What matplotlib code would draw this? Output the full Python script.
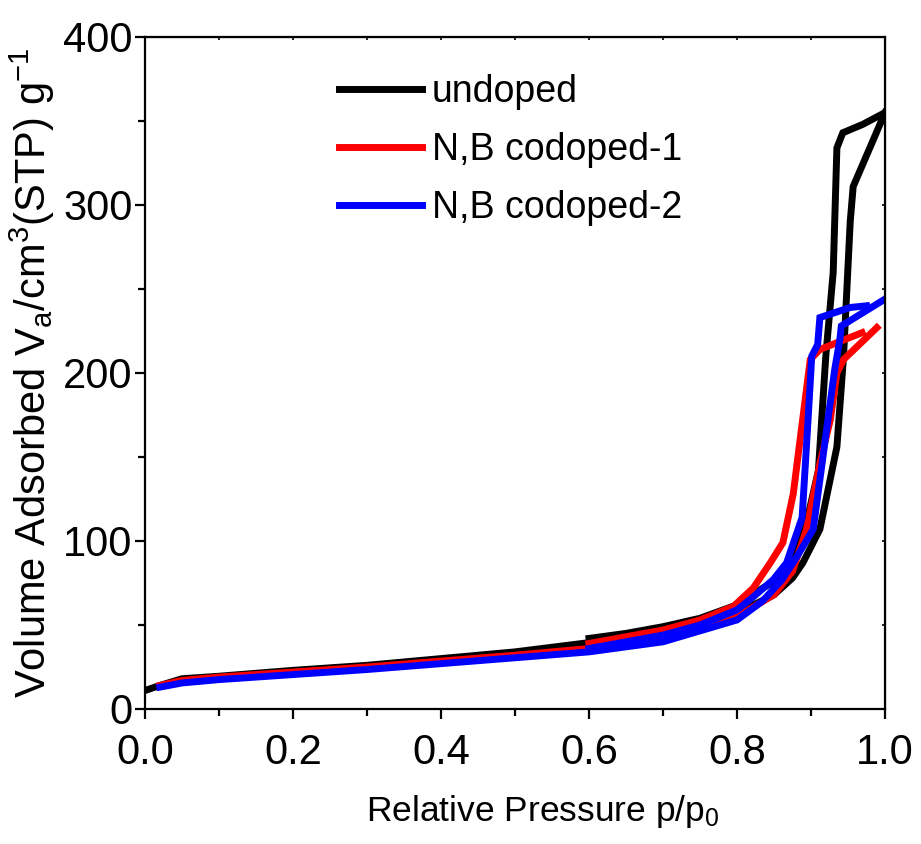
import matplotlib
matplotlib.use("Agg")
import matplotlib.pyplot as plt
from matplotlib import font_manager

# font: narrow Arial-like if available
names = {f.name for f in font_manager.fontManager.ttflist}
fam = "Liberation Sans Narrow" if "Liberation Sans Narrow" in names else "Liberation Sans"
plt.rcParams["font.family"] = [fam, "DejaVu Sans"]
plt.rcParams["mathtext.fontset"] = "custom"
plt.rcParams["mathtext.rm"] = fam
plt.rcParams["mathtext.it"] = fam

##############################################################################
# data

# undoped
und_ads_x = [0.0, 0.02, 0.05, 0.1, 0.2, 0.3, 0.4, 0.5, 0.6, 0.7, 0.75, 0.8,
             0.85, 0.875, 0.889, 0.912, 0.935, 0.944, 0.953, 0.957, 1.0]
und_ads_y = [11, 14, 18, 19.5, 23, 26, 30, 34, 39.5, 45, 50, 57,
             68, 78, 87, 107, 156, 210, 290, 311, 355]
und_des_x = [1.0, 0.97, 0.943, 0.935, 0.93, 0.92, 0.91, 0.894, 0.87, 0.85,
             0.82, 0.8, 0.75, 0.7, 0.65, 0.6]
und_des_y = [355, 348, 343, 334, 260, 210, 142, 111, 88, 76,
             68, 62, 54, 49, 45, 42]

# N,B codoped-1
nb1_ads_x = [0.02, 0.05, 0.1, 0.2, 0.3, 0.4, 0.5, 0.6, 0.7, 0.8, 0.85,
             0.875, 0.894, 0.912, 0.926, 0.935, 0.944, 0.989]
nb1_ads_y = [14, 17, 19, 22, 25, 28.5, 32, 36, 42, 55, 68,
             82, 107, 146, 172, 200, 208, 227]
nb1_des_x = [0.969, 0.912, 0.899, 0.876, 0.862, 0.845, 0.822, 0.795,
             0.75, 0.7, 0.6]
nb1_des_y = [224, 214, 208, 128, 99, 87, 72, 61, 53, 47, 39]

# N,B codoped-2
nb2_ads_x = [0.02, 0.05, 0.1, 0.2, 0.3, 0.4, 0.5, 0.6, 0.7, 0.8, 0.834,
             0.861, 0.88, 0.903, 0.921, 0.932, 0.939, 0.941, 1.0]
nb2_ads_y = [13, 15.5, 17.5, 20.5, 23.5, 27, 30.5, 34, 40, 53, 64,
             77, 90, 107, 166, 202, 220, 228, 244]
nb2_des_x = [0.975, 0.953, 0.912, 0.909, 0.901, 0.896, 0.888, 0.867, 0.849,
             0.82, 0.8, 0.75, 0.7, 0.6]
nb2_des_y = [240, 239, 233, 217, 210, 172, 114, 87, 77,
             66, 59, 50, 44, 36]

labels = ["undoped", "N,B codoped-1", "N,B codoped-2"]
colors = ["black", "red", "blue"]

##############################################################################
# plot

fig = plt.figure(figsize=(9.21, 8.44), dpi=100)
ax = fig.add_axes([145 / 921, 1 - 709 / 844, 740 / 921, 672 / 844])

series = [(und_ads_x, und_ads_y, und_des_x, und_des_y),
          (nb1_ads_x, nb1_ads_y, nb1_des_x, nb1_des_y),
          (nb2_ads_x, nb2_ads_y, nb2_des_x, nb2_des_y)]

for (ax_x, ax_y, dx, dy), lab, c in zip(series, labels, colors):
    ax.plot(ax_x, ax_y, color=c, lw=5, label=lab, solid_joinstyle="miter")
    ax.plot(dx, dy, color=c, lw=5, solid_joinstyle="miter")

ax.set_xlim(0, 1.0)
ax.set_ylim(0, 400)
ax.set_xticks([0.0, 0.2, 0.4, 0.6, 0.8, 1.0])
ax.set_xticks([0.1, 0.3, 0.5, 0.7, 0.9], minor=True)
ax.set_yticks([0, 100, 200, 300, 400])
ax.set_yticks([50, 150, 250, 350], minor=True)

for s in ax.spines.values():
    s.set_linewidth(1.6)

ax.tick_params(which="major", direction="out", length=7, width=1.6,
               labelsize=30)
ax.tick_params(axis="x", which="major", pad=10)
ax.tick_params(axis="y", which="major", pad=2)
ax.tick_params(which="minor", direction="out", length=5, width=1.6)

# short inward ticks on top and right
sx = ax.secondary_xaxis("top")
sx.set_xticks([0.0, 0.2, 0.4, 0.6, 0.8, 1.0])
sx.set_xticks([0.1, 0.3, 0.5, 0.7, 0.9], minor=True)
sx.tick_params(which="both", direction="in", length=2.5, width=1.2,
               labeltop=False)
sy = ax.secondary_yaxis("right")
sy.set_yticks([0, 100, 200, 300, 400])
sy.set_yticks([50, 150, 250, 350], minor=True)
sy.tick_params(which="both", direction="in", length=2.5, width=1.2,
               labelright=False)

ax.set_xlabel(r"Relative Pressure p/p$_\mathregular{0}$", fontsize=25.5)
ax.xaxis.set_label_coords(0.537, -0.152, transform=ax.transAxes)
ax.xaxis.label.set_va("center")
ax.set_ylabel(r"Volume Adsorbed V$_\mathregular{a}$/cm$^\mathregular{3}$"
              r"(STP) g$^\mathregular{-1}$", fontsize=30, labelpad=4)

ax.legend(loc="upper left", bbox_to_anchor=(0.242, 0.967), frameon=False,
          fontsize=27, handlelength=2.2, handletextpad=0.27,
          labelspacing=0.58, borderaxespad=0)

fig.savefig("out.png", dpi=100)
